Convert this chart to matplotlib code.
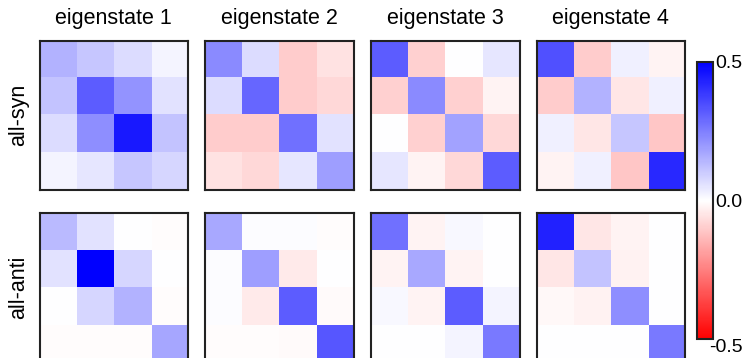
import numpy as np
import matplotlib
matplotlib.use("Agg")
import matplotlib.pyplot as plt
from matplotlib.transforms import ScaledTranslation

plt.rcParams['font.family'] = ['Liberation Sans', 'DejaVu Sans']

# reduced density matrices of the first four eigenstates
titles = ['eigenstate 1', 'eigenstate 2', 'eigenstate 3', 'eigenstate 4']
row_labels = ['all-syn', 'all-anti']

syn_1 = [[0.15, 0.11, 0.07, 0.02],
         [0.115, 0.32, 0.21, 0.055],
         [0.07, 0.22, 0.45, 0.115],
         [0.02, 0.05, 0.11, 0.08]]
syn_2 = [[0.23, 0.07, -0.10, -0.055],
         [0.07, 0.30, -0.10, -0.075],
         [-0.10, -0.10, 0.28, 0.055],
         [-0.055, -0.075, 0.05, 0.19]]
syn_3 = [[0.32, -0.09, 0.0, 0.05],
         [-0.09, 0.23, -0.09, -0.02],
         [0.0, -0.09, 0.18, -0.075],
         [0.05, -0.02, -0.075, 0.32]]
syn_4 = [[0.34, -0.10, 0.03, -0.02],
         [-0.10, 0.15, -0.05, 0.03],
         [0.03, -0.05, 0.11, -0.11],
         [-0.02, 0.03, -0.11, 0.42]]

anti_1 = [[0.135, 0.055, 0.0, -0.005],
          [0.055, 0.5, 0.08, 0.0],
          [0.0, 0.08, 0.15, -0.005],
          [-0.005, -0.005, -0.005, 0.175]]
anti_2 = [[0.17, 0.005, 0.005, -0.005],
          [0.005, 0.19, -0.04, 0.0],
          [0.005, -0.04, 0.32, -0.01],
          [-0.005, -0.005, -0.01, 0.33]]
anti_3 = [[0.28, -0.02, 0.015, 0.0],
          [-0.02, 0.17, -0.02, 0.0],
          [0.015, -0.02, 0.32, 0.02],
          [0.0, 0.0, 0.02, 0.26]]
anti_4 = [[0.43, -0.05, -0.02, 0.0],
          [-0.05, 0.115, -0.025, 0.0],
          [-0.015, -0.025, 0.22, 0.0],
          [0.0, 0.0, 0.0, 0.26]]

rows = [[syn_1, syn_2, syn_3, syn_4], [anti_1, anti_2, anti_3, anti_4]]

W, H = 746, 358
fig = plt.figure(figsize=(W / 100, H / 100), dpi=100)

def px_axes(x0, y0, w, h):
    # axes from pixel box (top-left origin)
    return fig.add_axes([x0 / W, 1 - (y0 + h) / H, w / W, h / H])

lefts = [39.5, 205, 371, 536.5]
tops = [41, 213]
size = 148.5

for r, row in enumerate(rows):
    for c, mat in enumerate(row):
        ax = px_axes(lefts[c], tops[r], size, size)
        im = ax.imshow(np.array(mat), cmap='bwr_r', vmin=-0.5, vmax=0.5,
                       interpolation='nearest', aspect='auto')
        ax.set_xticks([])
        ax.set_yticks([])
        for sp in ax.spines.values():
            sp.set_linewidth(1.5)
            sp.set_color('#222222')
        if r == 0:
            ax.set_title(titles[c], fontsize=15.5, pad=12)
    fig.text(19 / W, 1 - (tops[r] + size / 2) / H, row_labels[r],
             rotation=90, ha='center', va='center', fontsize=15.5)

cax = px_axes(697, 62, 16, 277)
cb = fig.colorbar(im, cax=cax, ticks=[0.5, 0.0, -0.5])
cb.set_ticklabels(['0.5', '0.0', '-0.5'])
cb.ax.tick_params(length=0, pad=1.5, labelsize=14)
cb.outline.set_linewidth(1.5)
cb.outline.set_edgecolor('#222222')

# nudge the bottom label left and down so the minus sign sits under the bar
low = cb.ax.yaxis.get_major_ticks()[-1].label2
low.set_transform(low.get_transform()
                  + ScaledTranslation(-6 / 100, -7 / 100, fig.dpi_scale_trans))

fig.savefig('out.png', dpi=100)
